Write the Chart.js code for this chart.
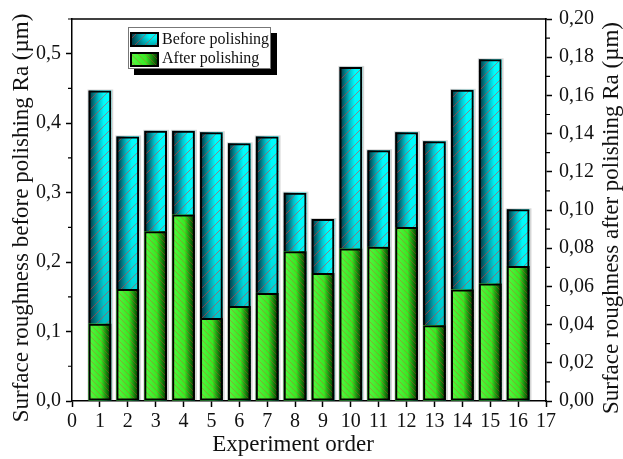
<!DOCTYPE html>
<html>
<head>
<meta charset="utf-8">
<script src="https://cdn.jsdelivr.net/npm/chart.js@4.4.1/dist/chart.umd.min.js"></script>
<style>
  html, body { margin: 0; padding: 0; background: #fff; }
  #wrap { position: relative; width: 623px; height: 459px; }
</style>
</head>
<body>
<div id="wrap"><canvas id="chart"></canvas></div>
<script>
// Surface roughness Ra (µm) for each experiment, before and after polishing
const experiments = [1, 2, 3, 4, 5, 6, 7, 8, 9, 10, 11, 12, 13, 14, 15, 16];
const beforePolishing = [0.447, 0.381, 0.389, 0.389, 0.387, 0.371, 0.381, 0.300,
                         0.262, 0.481, 0.361, 0.387, 0.374, 0.448, 0.492, 0.276];
const afterPolishing = [0.0405, 0.0586, 0.0889, 0.0976, 0.0434, 0.0497, 0.0566, 0.0784,
                        0.0670, 0.0798, 0.0807, 0.0911, 0.0397, 0.0584, 0.0615, 0.0707];

const seriesLabels = ['Before polishing', 'After polishing'];
const xTickValues = [0, 1, 2, 3, 4, 5, 6, 7, 8, 9, 10, 11, 12, 13, 14, 15, 16, 17];
const leftTickValues = [0, 0.1, 0.2, 0.3, 0.4, 0.5];
const rightTickValues = [0, 0.02, 0.04, 0.06, 0.08, 0.10, 0.12, 0.14, 0.16, 0.18, 0.20];
const xTitle = 'Experiment order';
const leftTitle = 'Surface roughness before polishing Ra (µm)';
const rightTitle = 'Surface roughness after polishing Ra (µm)';

const FONT = "'Liberation Serif', 'Times New Roman', serif";

// Diagonal red hatching clipped to a rectangle; dir 1 = "/", dir -1 = "\"
function hatch(ctx, l, t, w, h, dir, gap, alpha) {
  ctx.save();
  ctx.beginPath();
  ctx.rect(l, t, w, h);
  ctx.clip();
  ctx.strokeStyle = 'rgba(235,50,50,' + alpha + ')';
  ctx.lineWidth = 0.8;
  ctx.beginPath();
  if (dir > 0) {
    const c0 = Math.floor((l + t) / gap) * gap;
    for (let c = c0; c <= l + w + t + h + gap; c += gap) {
      ctx.moveTo(c - t, t);
      ctx.lineTo(c - t - h, t + h);
    }
  } else {
    const c0 = Math.floor((t - l - w) / gap) * gap;
    for (let c = c0; c <= t + h - l + gap; c += gap) {
      ctx.moveTo(t - c, t);
      ctx.lineTo(t + h - c, t + h);
    }
  }
  ctx.stroke();
  ctx.restore();
}

// Cyan gradient body with "/" hatch, or green gradient body with "\" hatch
function paintBody(ctx, kind, l, t, w, h, gap) {
  ctx.save();
  if (kind === 'before') {
    const g = ctx.createLinearGradient(l, 0, l + w, 0);
    g.addColorStop(0, 'rgb(0,40,50)');
    g.addColorStop(0.45, 'rgb(0,195,205)');
    g.addColorStop(0.68, 'rgb(0,252,252)');
    g.addColorStop(1, 'rgb(0,255,255)');
    ctx.fillStyle = g;
    ctx.fillRect(l, t, w, h);
    const v = ctx.createLinearGradient(0, t, 0, t + h);
    v.addColorStop(0, 'rgba(0,60,70,0)');
    v.addColorStop(0.35, 'rgba(0,60,70,0.05)');
    v.addColorStop(1, 'rgba(0,60,70,0.5)');
    ctx.fillStyle = v;
    ctx.fillRect(l, t, w, h);
    ctx.restore();
    hatch(ctx, l, t, w, h, 1, gap || 10, 0.7);
  } else {
    const g = ctx.createLinearGradient(l, 0, l + w, 0);
    g.addColorStop(0, 'rgb(85,250,65)');
    g.addColorStop(0.55, 'rgb(55,232,35)');
    g.addColorStop(0.85, 'rgb(12,105,6)');
    g.addColorStop(1, 'rgb(0,30,0)');
    ctx.fillStyle = g;
    ctx.fillRect(l, t, w, h);
    ctx.restore();
    hatch(ctx, l, t, w, h, -1, gap || 6, 0.45);
  }
}

// Fills each bar before the library strokes its black outline
const barPaint = {
  id: 'barPaint',
  beforeDatasetDraw(chart, args) {
    const ctx = chart.ctx;
    const kind = args.index === 0 ? 'before' : 'after';
    ctx.save();
    ctx.beginPath();
    ctx.rect(chart.chartArea.left, chart.chartArea.top - 2,
             chart.chartArea.right - chart.chartArea.left, chart.chartArea.bottom - chart.chartArea.top + 2);
    ctx.clip();
    args.meta.data.forEach(el => {
      const p = el.getProps(['x', 'y', 'base', 'width'], true);
      const l = p.x - p.width / 2;
      const t = Math.min(p.y, p.base);
      const h = Math.abs(p.base - p.y);
      if (kind === 'before') {
        ctx.fillStyle = 'rgba(0,0,0,0.16)';
        ctx.fillRect(l - 1, t - 1, p.width + 3, h + 1);
      }
      paintBody(ctx, kind, l, t, p.width, h);
    });
    ctx.restore();
  }
};

// Frame top edge, minor ticks, axis titles and the boxed legend
const decorations = {
  id: 'decorations',
  afterDraw(chart) {
    const ctx = chart.ctx;
    const a = chart.chartArea;
    const yl = chart.scales.y;
    const yr = chart.scales.y1;
    ctx.save();
    ctx.strokeStyle = '#000';
    ctx.lineWidth = 1.5;
    ctx.beginPath();
    ctx.moveTo(a.left - 0.75, a.top);
    ctx.lineTo(a.right + 0.75, a.top);
    ctx.stroke();

    // minor ticks
    ctx.lineWidth = 1.2;
    ctx.beginPath();
    for (let k = 1; k <= 11; k += 2) {
      const py = yl.getPixelForValue(k * 0.05);
      ctx.moveTo(a.left - 4, py);
      ctx.lineTo(a.left, py);
    }
    for (let k = 1; k <= 19; k += 2) {
      const py = yr.getPixelForValue(k * 0.01);
      ctx.moveTo(a.right, py);
      ctx.lineTo(a.right + 4, py);
    }
    ctx.stroke();

    // axis titles
    ctx.fillStyle = '#111';
    ctx.font = '23px ' + FONT;
    ctx.textAlign = 'center';
    ctx.textBaseline = 'middle';
    ctx.fillText(xTitle, 293, 445);
    ctx.save();
    ctx.translate(22, 218);
    ctx.rotate(-Math.PI / 2);
    ctx.fillText(leftTitle, 0, 0);
    ctx.restore();
    ctx.save();
    ctx.translate(612, 218);
    ctx.rotate(-Math.PI / 2);
    ctx.fillText(rightTitle, 0, 0);
    ctx.restore();

    // legend
    const lx = a.left + 56, ly = a.top + 8, lw = 143, lh = 42;
    ctx.fillStyle = '#000';
    ctx.fillRect(lx + 6, ly + 6, lw, lh);
    ctx.fillStyle = '#fff';
    ctx.fillRect(lx, ly, lw, lh);
    ctx.strokeStyle = '#777';
    ctx.lineWidth = 1;
    ctx.strokeRect(lx + 0.5, ly + 0.5, lw - 1, lh - 1);
    chart.data.datasets.forEach((ds, i) => {
      const sx = lx + 2, sy = ly + 5 + i * 20, sw = 29, sh = 15;
      paintBody(ctx, i === 0 ? 'before' : 'after', sx, sy, sw, sh, i === 0 ? 10 : 7);
      ctx.strokeStyle = '#000';
      ctx.lineWidth = 2;
      ctx.strokeRect(sx + 1, sy + 1, sw - 2, sh - 2);
      ctx.fillStyle = '#111';
      ctx.font = '16px ' + FONT;
      ctx.textAlign = 'left';
      ctx.textBaseline = 'alphabetic';
      ctx.fillText(ds.label, lx + 34, ly + 17 + i * 19);
    });
    ctx.restore();
  }
};

const commaFmt = digits => v => Number(v).toFixed(digits).replace('.', ',');
const tickFont = { family: FONT, size: 20 };
const gridOpts = { drawOnChartArea: false, offset: false, tickLength: 6, tickColor: '#000', tickWidth: 1.5 };
const borderOpts = { color: '#000', width: 1.5 };

new Chart(document.getElementById('chart'), {
  type: 'bar',
  data: {
    datasets: [
      {
        label: seriesLabels[0],
        data: experiments.map((e, i) => ({ x: e, y: beforePolishing[i] })),
        yAxisID: 'y',
        order: 1,
        backgroundColor: 'rgba(0,0,0,0)',
        borderColor: '#000',
        borderWidth: 2,
        borderSkipped: false
      },
      {
        label: seriesLabels[1],
        data: experiments.map((e, i) => ({ x: e, y: afterPolishing[i] })),
        yAxisID: 'y1',
        order: 0,
        backgroundColor: 'rgba(0,0,0,0)',
        borderColor: '#000',
        borderWidth: 2,
        borderSkipped: false
      }
    ]
  },
  options: {
    responsive: true,
    maintainAspectRatio: false,
    animation: false,
    grouped: false,
    categoryPercentage: 1,
    barPercentage: 0.815,
    layout: { padding: { top: 18, left: 0, right: 0, bottom: 0 } },
    plugins: { legend: { display: false }, tooltip: { enabled: false } },
    scales: {
      x: {
        type: 'linear',
        min: 0, max: 17,
        offset: false,
        afterFit(s) { s.height = 58; },
        afterBuildTicks(s) { s.ticks = xTickValues.map(v => ({ value: v })); },
        grid: gridOpts,
        border: borderOpts,
        ticks: { font: tickFont, color: '#111', padding: 3, maxRotation: 0, autoSkip: false }
      },
      y: {
        position: 'left',
        min: 0, max: 0.55,
        afterFit(s) { s.width = 72; },
        afterBuildTicks(s) { s.ticks = leftTickValues.map(v => ({ value: v })); },
        grid: gridOpts,
        border: borderOpts,
        ticks: { font: tickFont, color: '#111', padding: 5, callback: commaFmt(1) }
      },
      y1: {
        position: 'right',
        min: 0, max: 0.2,
        afterFit(s) { s.width = 77; },
        afterBuildTicks(s) { s.ticks = rightTickValues.map(v => ({ value: v })); },
        grid: gridOpts,
        border: borderOpts,
        ticks: { font: tickFont, color: '#111', padding: 7, callback: commaFmt(2) }
      }
    }
  },
  plugins: [barPaint, decorations]
});
</script>
</body>
</html>
